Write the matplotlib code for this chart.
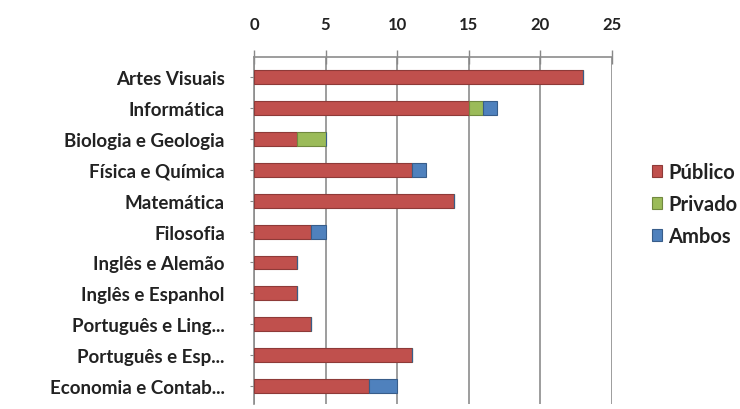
import matplotlib
matplotlib.use("Agg")
import matplotlib.pyplot as plt
import numpy as np

categories = ["Artes Visuais", "Informática", "Biologia e Geologia", "Física e Química",
              "Matemática", "Filosofia", "Inglês e Alemão", "Inglês e Espanhol",
              "Português e Ling...", "Português e Esp...", "Economia e Contab..."]
publico = [23, 15, 3, 11, 14, 4, 3, 3, 4, 11, 8]
privado = [0, 1, 2, 0, 0, 0, 0, 0, 0, 0, 0]
ambos = [0, 1, 0, 1, 0, 1, 0, 0, 0, 0, 2]
series_names = ["Público", "Privado", "Ambos"]
xticks = [0, 5, 10, 15, 20, 25]

colors = ["#C0504D", "#9BBB59", "#4F81BD"]
edges = ["#8E3A38", "#71893F", "#385D8A"]

plt.rcParams['font.family'] = ['Lato', 'DejaVu Sans']

W, H = 740, 410
fig = plt.figure(figsize=(W / 100, H / 100), dpi=100)
ax_left, ax_right, ax_top, ax_bottom = 254, 612, 58, 405
ax = fig.add_axes([ax_left / W, 1 - ax_bottom / H, (ax_right - ax_left) / W, (ax_bottom - ax_top) / H])

y = np.arange(len(categories))
left = np.zeros(len(categories))
handles = []
for vals, c, e, name in zip([publico, privado, ambos], colors, edges, series_names):
    vals = np.array(vals, dtype=float)
    b = ax.barh(y, vals, left=left, height=0.45, color=c, edgecolor=e, linewidth=0.8,
                label=name, zorder=3)
    handles.append(b)
    left = left + vals

ax.set_xlim(0, 25)
ax.set_ylim(10.58, -0.65)
ax.set_xticks(xticks)
ax.set_xticklabels([str(t) for t in xticks], fontsize=12, fontweight='bold', color='#222222')
ax.xaxis.tick_top()
ax.tick_params(axis='x', direction='inout', length=10, pad=13, color='#888888', width=1)
ax.set_yticks(y)
ax.set_yticklabels(categories, fontsize=13.5, fontweight='bold', color='#222222')
ax.tick_params(axis='y', length=3, color='#888888', pad=18)

ax.grid(axis='x', color='#8C8C8C', linewidth=1.2, zorder=0)
for s in ['right', 'bottom']:
    ax.spines[s].set_visible(False)
for s in ['left', 'top']:
    ax.spines[s].set_color('#8C8C8C')
    ax.spines[s].set_linewidth(1.2)

leg = fig.legend(handles=handles, labels=series_names, loc='upper left',
                 bbox_to_anchor=(652 / W, 1 - 163 / H), frameon=False,
                 prop={'family': 'Lato', 'weight': 'bold', 'size': 14.5},
                 handlelength=0.5, handleheight=0.5, handletextpad=0.3, labelspacing=0.6,
                 borderpad=0, borderaxespad=0)
for t in leg.get_texts():
    t.set_color('#222222')

fig.savefig("out.png", dpi=100, facecolor='white')
